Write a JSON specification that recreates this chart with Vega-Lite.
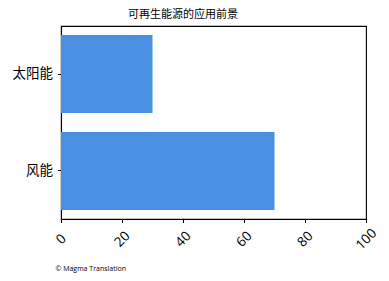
{
  "$schema": "https://vega.github.io/schema/vega-lite/v6.json",
  "autosize": {"type": "none"},
  "padding": {"left": 61, "top": 26, "right": 23, "bottom": 62},
  "width": 305,
  "height": 193,
  "background": "white",
  "title": {
    "text": "可再生能源的应用前景",
    "anchor": "start",
    "frame": "group",
    "dx": 67,
    "offset": 6,
    "font": "Noto Sans CJK SC",
    "fontSize": 11,
    "fontWeight": "normal",
    "color": "black"
  },
  "data": {
    "values": [
      {"source": "太阳能", "value": 30},
      {"source": "风能", "value": 70}
    ]
  },
  "mark": {"type": "bar", "color": "#4a90e2"},
  "encoding": {
    "y": {
      "field": "source",
      "type": "nominal",
      "sort": ["太阳能", "风能"],
      "scale": {"paddingInner": 0.196, "paddingOuter": 0.093},
      "axis": {
        "title": null,
        "labelFont": "Noto Sans CJK SC",
        "labelFontSize": 13.5,
        "labelColor": "black",
        "tickColor": "black",
        "tickSize": 3.5,
        "labelPadding": 5,
        "domainColor": "black",
        "domainWidth": 1.1
      }
    },
    "x": {
      "field": "value",
      "type": "quantitative",
      "scale": {"domain": [0, 100], "nice": false},
      "axis": {
        "values": [0, 20, 40, 60, 80, 100],
        "grid": false,
        "title": "© Magma Translation",
        "titleAnchor": "start",
        "titleAlign": "left",
        "titleBaseline": "middle",
        "titleX": -6,
        "titleY": 49,
        "titleFont": "Open Sans",
        "titleFontSize": 7,
        "titleFontWeight": "normal",
        "titleColor": "black",
        "labelAngle": -45,
        "labelAlign": "center",
        "labelBaseline": "middle",
        "labelPadding": 16.5,
        "labelFont": "Open Sans",
        "labelFontSize": 13.5,
        "labelColor": "black",
        "tickColor": "black",
        "tickSize": 3.5,
        "domainColor": "black",
        "domainWidth": 1.1
      }
    }
  },
  "config": {
    "view": {"stroke": "black", "strokeWidth": 1.1}
  }
}
